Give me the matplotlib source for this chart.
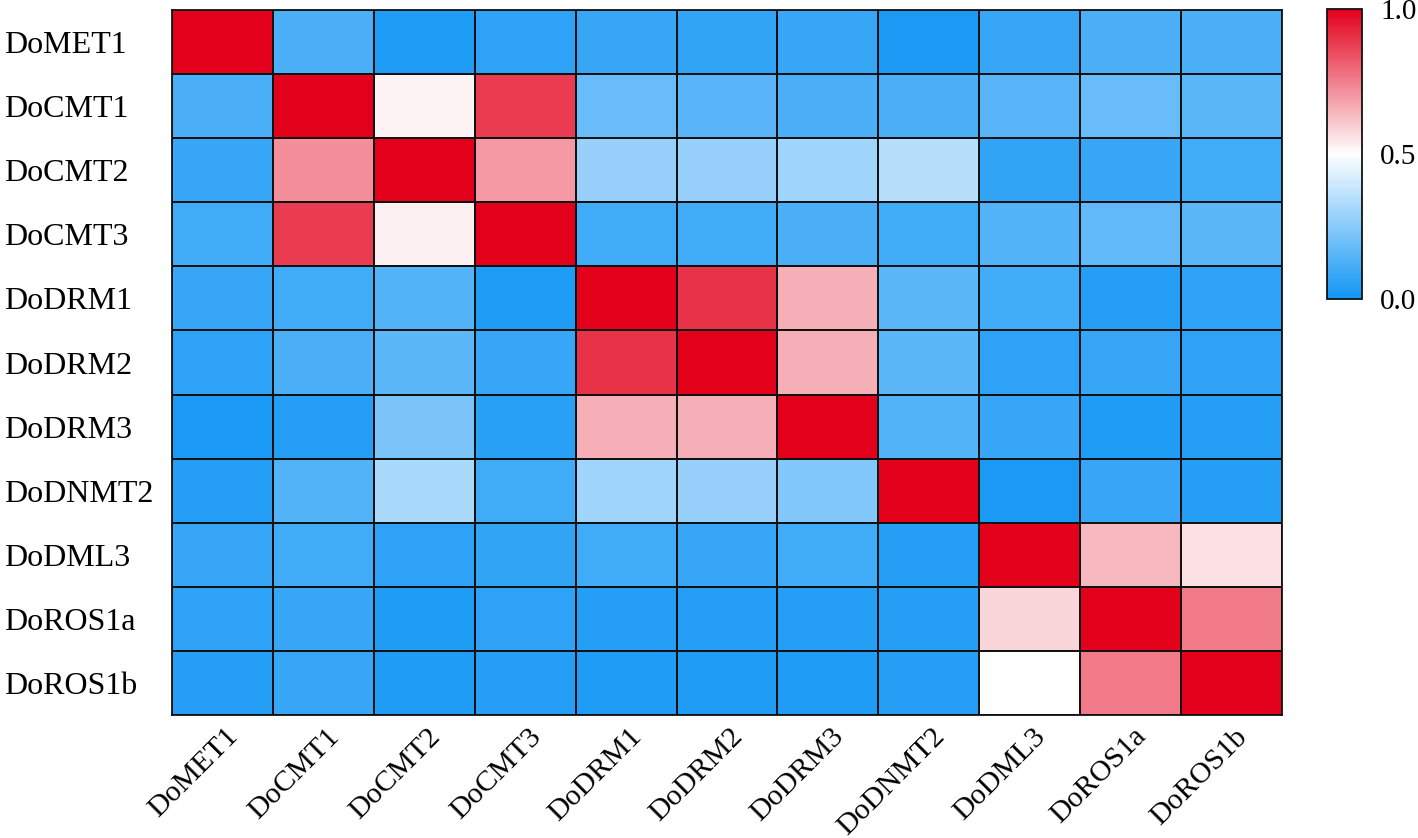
import numpy as np
import matplotlib
matplotlib.use("Agg")
import matplotlib.pyplot as plt
from matplotlib.colors import LinearSegmentedColormap
from matplotlib.transforms import ScaledTranslation

plt.rcParams['font.family'] = ['Liberation Serif', 'DejaVu Serif']

# gene names (rows and columns)
genes = ["DoMET1", "DoCMT1", "DoCMT2", "DoCMT3", "DoDRM1", "DoDRM2",
         "DoDRM3", "DoDNMT2", "DoDML3", "DoROS1a", "DoROS1b"]

# correlation values
row_met1  = [1.00, 0.12, 0.03, 0.06, 0.08, 0.07, 0.08, 0.02, 0.08, 0.12, 0.12]
row_cmt1  = [0.12, 1.00, 0.52, 0.88, 0.18, 0.15, 0.12, 0.12, 0.15, 0.18, 0.16]
row_cmt2  = [0.08, 0.72, 1.00, 0.70, 0.28, 0.28, 0.30, 0.35, 0.07, 0.08, 0.10]
row_cmt3  = [0.10, 0.88, 0.53, 1.00, 0.10, 0.10, 0.12, 0.10, 0.14, 0.17, 0.16]
row_drm1  = [0.08, 0.10, 0.14, 0.03, 1.00, 0.90, 0.66, 0.16, 0.10, 0.04, 0.06]
row_drm2  = [0.06, 0.12, 0.16, 0.08, 0.90, 1.00, 0.66, 0.16, 0.06, 0.08, 0.06]
row_drm3  = [0.02, 0.04, 0.22, 0.05, 0.66, 0.66, 1.00, 0.14, 0.08, 0.03, 0.04]
row_dnmt2 = [0.04, 0.14, 0.32, 0.10, 0.30, 0.28, 0.24, 1.00, 0.02, 0.08, 0.04]
row_dml3  = [0.08, 0.10, 0.06, 0.07, 0.10, 0.08, 0.10, 0.04, 1.00, 0.64, 0.56]
row_ros1a = [0.06, 0.08, 0.03, 0.06, 0.04, 0.04, 0.04, 0.04, 0.58, 1.00, 0.76]
row_ros1b = [0.04, 0.08, 0.03, 0.04, 0.03, 0.03, 0.03, 0.04, 0.50, 0.76, 1.00]

data = np.array([row_met1, row_cmt1, row_cmt2, row_cmt3, row_drm1, row_drm2,
                 row_drm3, row_dnmt2, row_dml3, row_ros1a, row_ros1b])

cmap = LinearSegmentedColormap.from_list("bwr2", ["#1296F5", "#FFFFFF", "#E3001B"])

fig = plt.figure(figsize=(14.18, 8.38), dpi=100)
ax = fig.add_axes([172/1418, 1-715/838, 1110/1418, 705/838])
cax = fig.add_axes([1327/1418, 1-299/838, 35/1418, 290/838])

mesh = ax.pcolormesh(data, cmap=cmap, vmin=0, vmax=1,
                     edgecolors="#111111", linewidth=1.3)
ax.set_xlim(0, len(genes))
ax.set_ylim(len(genes), 0)

ax.set_xticks(np.arange(len(genes)) + 0.5)
ax.set_yticks(np.arange(len(genes)) + 0.5)
ax.set_xticklabels(genes, rotation=45, ha="right", va="top", fontsize=21.5)
ax.set_yticklabels(genes, ha="left", fontsize=23)
ax.tick_params(axis="y", length=0, pad=121)
ax.tick_params(axis="x", length=0, pad=6)
# shift the slanted labels a little to the right
shift = ScaledTranslation(15 / 72, 0, fig.dpi_scale_trans)
for lab in ax.get_xticklabels():
    lab.set_transform(lab.get_transform() + shift)
for s in ax.spines.values():
    s.set_color("#111111")
    s.set_linewidth(1.3)

cb = fig.colorbar(mesh, cax=cax, ticks=[0, 0.5, 1.0])
cb.ax.set_yticklabels(["0.0", "0.5", "1.0"], fontsize=21)
cb.ax.tick_params(length=0, pad=13)
cb.outline.set_edgecolor("#111111")
cb.outline.set_linewidth(1.3)

fig.savefig("out.png", dpi=100)
